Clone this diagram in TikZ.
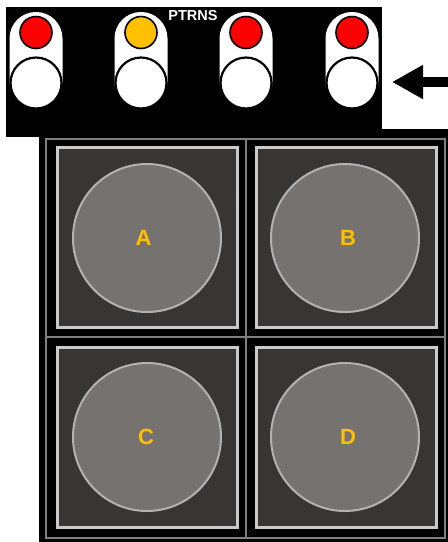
\documentclass[tikz,border=0pt]{standalone}
\usepackage{fontspec}
\setmainfont{Liberation Sans}
\usetikzlibrary{arrows.meta}
\definecolor{frameg}{HTML}{7F7F7F}
\definecolor{sqfill}{HTML}{383634}
\definecolor{sqedge}{HTML}{CACACA}
\definecolor{discfill}{HTML}{767270}
\definecolor{discedge}{HTML}{B4B2B0}
\definecolor{lblyellow}{HTML}{FFC000}
\definecolor{ledred}{HTML}{FF0000}
\definecolor{ledyellow}{HTML}{FFC000}
\tikzset{
  sq/.style={rectangle, minimum size=180pt, inner sep=0pt, fill=sqfill, draw=sqedge, line width=3pt},
  disc/.style={circle, minimum size=148pt, inner sep=0pt, fill=discfill, draw=discedge, line width=2pt},
  lbl/.style={text=lblyellow, font=\fontsize{22}{26}\selectfont\bfseries, inner sep=0pt},
  capsule/.style={rectangle, minimum width=53pt, minimum height=96pt, rounded corners=26.4pt, fill=white, inner sep=0pt},
  btn/.style={circle, minimum size=51pt, inner sep=0pt, fill=white, draw=black, line width=2.2pt},
  led/.style={circle, minimum size=32pt, inner sep=0pt, draw=black, line width=1.6pt},
  grid/.style={draw=frameg, line width=2.2pt},
}
\begin{document}
\begin{tikzpicture}[x=1pt,y=-1pt]
\useasboundingbox (0,0) rectangle (448,542);
% top panel
\fill[black] (6,7) rectangle (382,137);
\node[text=white, font=\fontsize{14.5}{16}\selectfont\bfseries, inner sep=0pt] (title) at (193,15.5) {PTRNS};
\foreach \i/\x/\c in {1/36/ledred, 2/141/ledyellow, 3/246/ledred, 4/352/ledred}{
  \node[capsule] (cap\i) at (\x,60) {};
  \node[btn] (btn\i) at (\x,83) {};
  \node[led, fill=\c] (led\i) at (\x,32.5) {};
}
% arrow
\coordinate (arrowstart) at (448,82);
\coordinate (arrowend) at (392,82);
\draw[line width=10pt, -{Triangle[length=31pt,width=32pt]}] (arrowstart) -- (arrowend);
% lower panel
\fill[black] (39,129) rectangle (448,542);
\draw[grid] (46,139) rectangle (445,538);
\draw[grid] (46,337) -- (445,337);
\draw[grid] (246,139) -- (246,538);
% pads
\node[sq] (sqA) at (147,237.5) {};
\node[sq] (sqB) at (346,237.5) {};
\node[sq] (sqC) at (147,437) {};
\node[sq] (sqD) at (346,437) {};
\node[disc] (dA) at (147,238) {};
\node[disc] (dB) at (345,238) {};
\node[disc] (dC) at (147,437) {};
\node[disc] (dD) at (345,437) {};
\node[lbl] (A) at (143.5,238) {A};
\node[lbl] (B) at (348,238) {B};
\node[lbl] (C) at (146,437) {C};
\node[lbl] (D) at (348,437) {D};
\end{tikzpicture}
\end{document}
